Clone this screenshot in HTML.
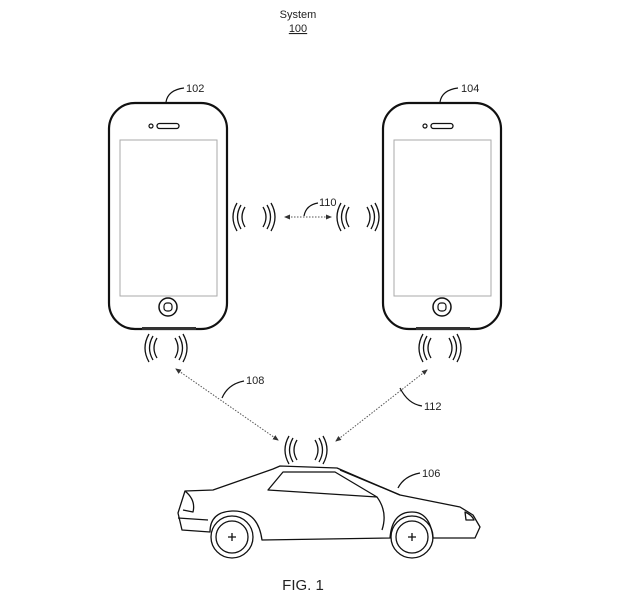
<!DOCTYPE html>
<html><head><style>body{margin:0;background:#fff}svg{display:block}text{font-family:"Liberation Sans",sans-serif;fill:#222}</style></head><body>
<svg width="634" height="607" viewBox="0 0 634 607" xmlns="http://www.w3.org/2000/svg">
<defs>
<marker id="ah" markerWidth="6" markerHeight="6" refX="5" refY="3" orient="auto-start-reverse"><path d="M0,0.5 L6,3 L0,5.5z" fill="#333"/></marker>
<g id="phone">
<rect x="0" y="0" width="118" height="226" rx="26" fill="#fff" stroke="#111" stroke-width="2.2"/>
<rect x="11" y="37" width="97" height="156" fill="none" stroke="#aaa" stroke-width="1"/>
<circle cx="42" cy="23" r="2" fill="none" stroke="#111" stroke-width="1.2"/>
<rect x="48" y="20.5" width="22" height="5" rx="2.5" fill="none" stroke="#111" stroke-width="1.3"/>
<circle cx="59" cy="204" r="9" fill="none" stroke="#111" stroke-width="1.5"/>
<rect x="55" y="200" width="8" height="8" rx="3" fill="none" stroke="#111" stroke-width="1.2"/>
<rect x="33" y="224" width="54" height="3" fill="#333"/>
</g>
<g id="wave" fill="none" stroke="#111" stroke-width="1.3">
<path d="M-9,-10 Q-15,0 -9,10"/><path d="M-13,-12 Q-20,0 -13,12"/><path d="M-17,-14 Q-25,0 -17,14"/>
<path d="M9,-10 Q15,0 9,10"/><path d="M13,-12 Q20,0 13,12"/><path d="M17,-14 Q25,0 17,14"/>
</g>
</defs>
<text x="298" y="18" font-size="11" text-anchor="middle">System</text>
<text x="298" y="32" font-size="11" text-anchor="middle" text-decoration="underline">100</text>
<use href="#phone" x="109" y="103"/>
<use href="#phone" x="383" y="103"/>
<path d="M166,102 Q168,90 184,88" fill="none" stroke="#111" stroke-width="1.2"/><text x="186" y="92" font-size="11">102</text>
<path d="M440,102 Q442,90 458,88" fill="none" stroke="#111" stroke-width="1.2"/><text x="461" y="92" font-size="11">104</text>
<use href="#wave" x="254" y="217"/><use href="#wave" x="358" y="217"/>
<use href="#wave" x="166" y="348"/><use href="#wave" x="440" y="348"/>
<use href="#wave" x="306" y="450"/>
<g stroke="#555" stroke-width="1" stroke-dasharray="1.5,1.5" fill="none">
<line x1="285" y1="217" x2="331" y2="217" marker-start="url(#ah)" marker-end="url(#ah)"/>
<line x1="176" y1="369" x2="278" y2="440" marker-start="url(#ah)" marker-end="url(#ah)"/>
<line x1="427" y1="370" x2="336" y2="441" marker-start="url(#ah)" marker-end="url(#ah)"/>
</g>
<path d="M304,216 Q306,205 318,203" fill="none" stroke="#111" stroke-width="1.2"/><text x="319" y="206" font-size="11">110</text>
<path d="M222,398 Q228,384 244,381" fill="none" stroke="#111" stroke-width="1.2"/><text x="246" y="384" font-size="11">108</text>
<path d="M400,388 Q408,404 422,406" fill="none" stroke="#111" stroke-width="1.2"/><text x="424" y="410" font-size="11">112</text>
<g fill="none" stroke="#111" stroke-width="1.3" stroke-linejoin="round">
<path d="M185,491 L213,490 L273,469 L280,466 L337,468 L400,495 L460,507 L473,515 L480,527 L475,538 L433,538 Q430,512 412,512 Q392,512 390,538 L262,540 Q258,510 232,511 Q210,512 210,532 L182,530 L178,513 Z"/>
<path d="M268,490 L283,472 L335,472 L377,497 Z"/>
<path d="M377,497 Q388,512 382,530"/>
<path d="M185,491 Q196,500 193,512 L183,510"/>
<path d="M178,518 L208,520"/>
<path d="M340,470 L400,495"/>
<path d="M465,512 Q472,515 474,520 L466,520 Z"/>
<circle cx="232" cy="537" r="21"/><circle cx="232" cy="537" r="16"/>
<circle cx="412" cy="537" r="21"/><circle cx="412" cy="537" r="16"/>
<path d="M228,537 h8 M232,533 v8 M408,537 h8 M412,533 v8"/>
<path d="M398,488 Q404,476 420,473"/>
</g>
<text x="422" y="477" font-size="11">106</text>
<text x="303" y="590" font-size="15" text-anchor="middle">FIG. 1</text>
</svg>
</body></html>
